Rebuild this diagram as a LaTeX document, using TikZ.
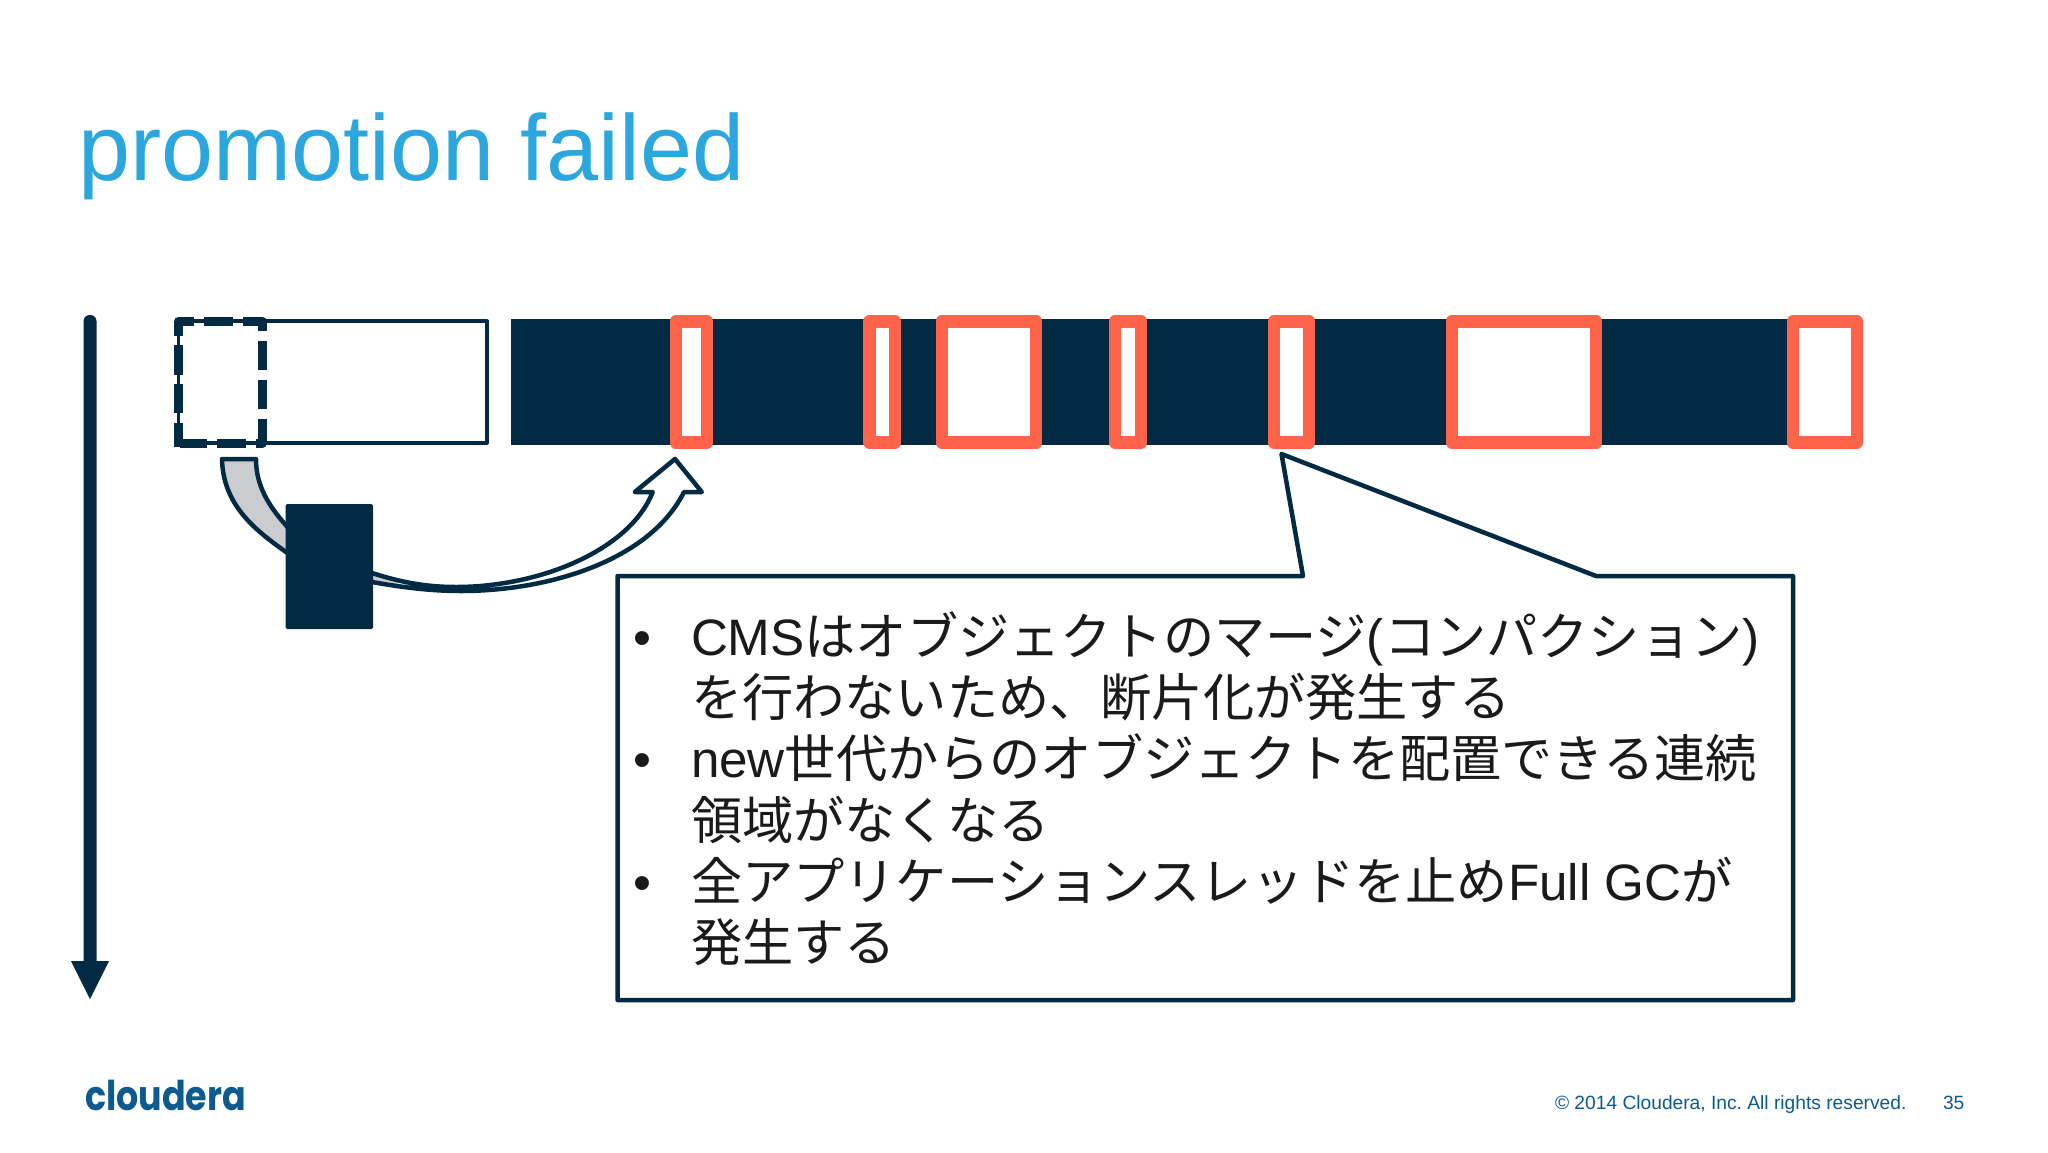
\documentclass[tikz,border=0pt]{standalone}
\usepackage{fontspec}
\setmainfont{Liberation Sans}
\newfontfamily\jp{Noto Sans CJK JP}
\newfontfamily\logofont{Poppins}[BoldFont={Poppins Bold}]
\newcommand{\ja}[1]{{\jp #1}}
\definecolor{navy}{HTML}{022A42}
\definecolor{coral}{HTML}{FF644A}
\definecolor{tailgray}{HTML}{CBCCCF}
\definecolor{titleblue}{HTML}{2BA7DD}
\definecolor{footblue}{HTML}{0C5A8E}
\definecolor{inktext}{HTML}{1A1A1A}
\frenchspacing
\tikzset{
  txt/.style={inner sep=0pt,outer sep=0pt,anchor=base west},
  body/.style={txt,text=inktext,font=\fontsize{51.2}{61}\selectfont},
  redslot/.style={draw=coral,line width=12.8pt,fill=white,line join=round},
  thin/.style={draw=navy,line width=3.8pt,line join=round},
  arrowline/.style={draw=navy,line width=4.5pt,line join=round},
}
\newcommand{\slot}[2]{\draw[redslot] (#1,321.3) rectangle (#2,442.3);}
\begin{document}
\begin{tikzpicture}[x=1pt,y=-1pt]
\useasboundingbox (0,0) rectangle (2048,1152);
\fill[white] (0,0) rectangle (2048,1152);

\node[txt,text=titleblue,font=\fontsize{93.6}{100}\selectfont] (title) at (78.5,180.5) {promotion failed};

% time arrow
\fill[navy,rounded corners=6pt] (83.5,315) rectangle (96.5,975);
\fill[navy] (71,961) -- (109,961) -- (90,999) -- cycle;

% young area
\draw[thin,fill=white] (178.5,321.3) rectangle (487,442.7);
\draw[navy,line width=9pt,line join=round]
  (178.5,335.7) -- (178.5,321.3) -- (194,321.3)
  (204,321.3) -- (233,321.3)
  (243,321.3) -- (262.5,321.3) -- (262.5,331.3)
  (262.5,340.7) -- (262.5,370)
  (262.5,380) -- (262.5,409.3)
  (262.5,419) -- (262.5,443) -- (256,443)
  (246,443) -- (217,443)
  (207,443) -- (180,443)
  (178.5,447.3) -- (178.5,423.3)
  (178.5,413.3) -- (178.5,384.3)
  (178.5,375) -- (178.5,345);

% old area
\fill[navy] (511,319.3) rectangle (1800,444.5);
\slot{676}{707}
\slot{869.6}{895}
\slot{942}{1036}
\slot{1115}{1141}
\slot{1274}{1309}
\slot{1452}{1596}
\slot{1793}{1857}

% block arrow
\def\blockarrow{(222,459) .. controls (223,505) and (255,530) .. (286,552)
  .. controls (315,570) and (345,578) .. (372,582)
  .. controls (400,587) and (430,591) .. (460.7,591)
  .. controls (550,591) and (650,560) .. (684,492)
  -- (701.8,492) -- (675,459) -- (634.8,492) -- (652.7,492)
  .. controls (630,550) and (540,587) .. (456,587)
  .. controls (425,587) and (400,582) .. (372,573)
  .. controls (335,560) and (305,550) .. (285.7,525)
  .. controls (268,505) and (256,485) .. (256,459) -- cycle}
\fill[white] \blockarrow;
\begin{scope}
  \clip (200,450) rectangle (398,600);
  \fill[tailgray] \blockarrow;
\end{scope}
\draw[arrowline] \blockarrow;
\fill[navy,rounded corners=1.5pt] (285.7,504) rectangle (373,629);

% callout
\draw[arrowline,fill=white]
  (617.5,576) -- (1303,576) -- (1281.5,454) -- (1596,576) -- (1793,576) -- (1793,1000) -- (617.5,1000) -- cycle;

\node[body] (b1) at (633,655) {•};
\node[body] (l1) at (691,655) {CMS\ja{はオブジェクトのマージ}(\ja{コンパクション})};
\node[body] (l2) at (691,716.3) {\ja{を行わないため、断片化が発生する}};
\node[body] (b2) at (633,777.6) {•};
\node[body] (l3) at (691,777.6) {new\ja{世代からのオブジェクトを配置できる連続}};
\node[body] (l4) at (691,839) {\ja{領域がなくなる}};
\node[body] (b3) at (633,900.5) {•};
\node[body] (l5) at (691,900.5) {\ja{全アプリケーションスレッドを止め}Full GC\ja{が}};
\node[body] (l6) at (691,961.5) {\ja{発生する}};

% footer
\node[txt,text=footblue,xscale=0.85,transform shape,font=\logofont\bfseries\fontsize{41}{44}\selectfont] (logo) at (85,1110) {cloudera};
\node[txt,text=footblue,font=\fontsize{19.2}{22}\selectfont] (copy) at (1555,1109) {© 2014 Cloudera, Inc. All rights reserved.};
\node[txt,text=footblue,font=\fontsize{19.2}{22}\selectfont] (page) at (1943,1109) {35};
\end{tikzpicture}
\end{document}
